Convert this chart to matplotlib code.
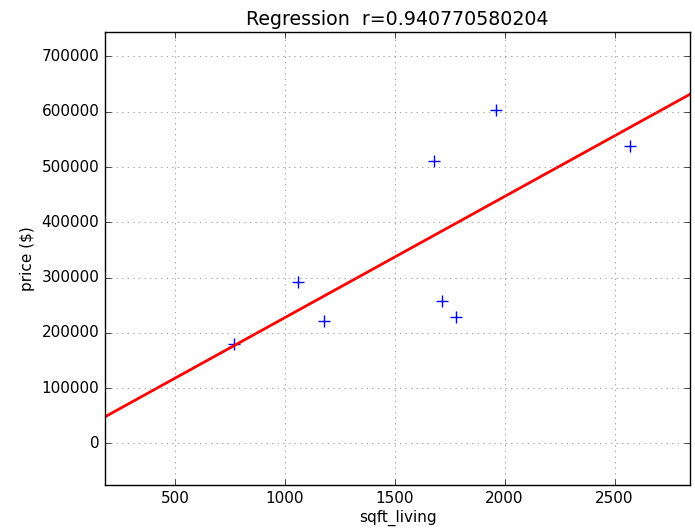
import matplotlib
matplotlib.use("Agg")
import matplotlib.pyplot as plt

plt.style.use("classic")

sqft_living = [1180, 2570, 770, 1960, 1680, 1715, 1060, 1780]
price = [221900, 538000, 180000, 604000, 510000, 257500, 291850, 229500]
slope = 219.3
intercept = 8100
r_value = "0.940770580204"

fig = plt.figure(figsize=(6.95, 5.28), dpi=100, facecolor="white")
ax = fig.add_axes([0.151, 0.0814, 0.842, 0.8586])
ax.set_facecolor("white")

ax.plot(sqft_living, price, "+", color="blue", markersize=9, markeredgewidth=1.0)
ax.axline((0, intercept), slope=slope, color="red", linewidth=2)

ax.set_xlim(182, 2844)
ax.set_ylim(-75400, 744900)
ax.set_xticks([500, 1000, 1500, 2000, 2500])
ax.set_yticks([0, 100000, 200000, 300000, 400000, 500000, 600000, 700000])
ax.grid(True, linestyle=":", color="gray")
ax.set_title("Regression  r=" + r_value, fontsize=13.7, pad=5)
ax.set_xlabel("sqft_living", fontsize=11, labelpad=3)
ax.set_ylabel("price (\\$)", fontsize=11)
ax.tick_params(labelsize=11)
ax.ticklabel_format(useOffset=False, style="plain")

fig.savefig("out.png", dpi=100, facecolor="white")
